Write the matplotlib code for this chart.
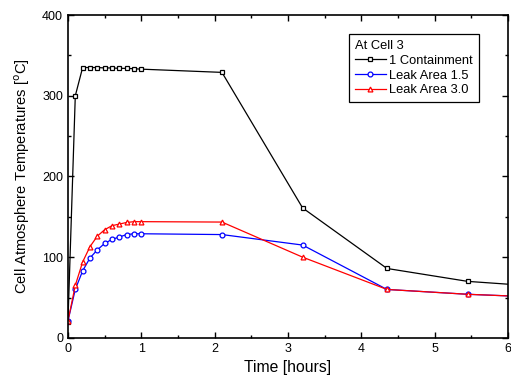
import matplotlib
matplotlib.use("Agg")
import matplotlib.pyplot as plt
from matplotlib.ticker import MultipleLocator

plt.rcParams["font.family"] = ["Liberation Sans", "DejaVu Sans"]

# 1 Containment
t_cont = [0.0, 0.1, 0.2, 0.3, 0.4, 0.5, 0.6, 0.7, 0.8, 0.9, 1.0, 2.1, 3.2, 4.35, 5.45, 6.55]
temp_cont = [20, 300, 335, 335, 335, 334.5, 334.5, 334, 334, 333.5, 333, 329, 161, 86, 70, 63]

# Leak Area 1.5
t_leak15 = [0.0, 0.1, 0.2, 0.3, 0.4, 0.5, 0.6, 0.7, 0.8, 0.9, 1.0, 2.1, 3.2, 4.35, 5.45, 6.55]
temp_leak15 = [21, 60, 83, 99, 109, 117, 122, 125, 128, 129, 129, 128, 115, 60, 54, 50]

# Leak Area 3.0
t_leak30 = [0.0, 0.1, 0.2, 0.3, 0.4, 0.5, 0.6, 0.7, 0.8, 0.9, 1.0, 2.1, 3.2, 4.35, 5.45, 6.55]
temp_leak30 = [21, 65, 94, 113, 126, 134, 139, 141, 143, 144, 144, 143.5, 100, 60, 54, 50]

fig = plt.figure(figsize=(5.11, 3.87), dpi=100)
ax = fig.add_axes([0.133, 0.127, 0.861, 0.834])

mk = dict(markerfacecolor="white", markersize=3.5, markeredgewidth=0.9, linewidth=0.9)
ax.plot(t_cont, temp_cont, color="black", marker="s", label="1 Containment", **mk)
ax.plot(t_leak15, temp_leak15, color="blue", marker="o", label="Leak Area 1.5", **mk)
ax.plot(t_leak30, temp_leak30, color="red", marker="^", label="Leak Area 3.0", **mk)

ax.set_xlim(0, 6)
ax.set_ylim(0, 400)
ax.xaxis.set_major_locator(MultipleLocator(1))
ax.xaxis.set_minor_locator(MultipleLocator(0.5))
ax.yaxis.set_major_locator(MultipleLocator(100))
ax.yaxis.set_minor_locator(MultipleLocator(50))
ax.tick_params(which="both", direction="in", top=True, right=True, labelsize=9, width=1)
ax.tick_params(which="major", length=4)
ax.tick_params(which="minor", length=2.5)
for s in ax.spines.values():
    s.set_linewidth(1.2)

ax.set_xlabel("Time [hours]", fontsize=11.3, labelpad=4)
ax.set_ylabel("Cell Atmosphere Temperatures [$^{\\rm o}$C]", fontsize=10.6, labelpad=7)

leg = ax.legend(title="At Cell 3", loc="upper right", bbox_to_anchor=(0.934, 0.94),
                fontsize=9.3, title_fontsize=9.3, fancybox=False, edgecolor="black",
                framealpha=1, handlelength=2.4, handletextpad=0.3, borderpad=0.45,
                labelspacing=0.2, borderaxespad=0)
leg._legend_box.align = "left"
leg.get_frame().set_linewidth(0.9)

fig.savefig("out.png", dpi=100)
